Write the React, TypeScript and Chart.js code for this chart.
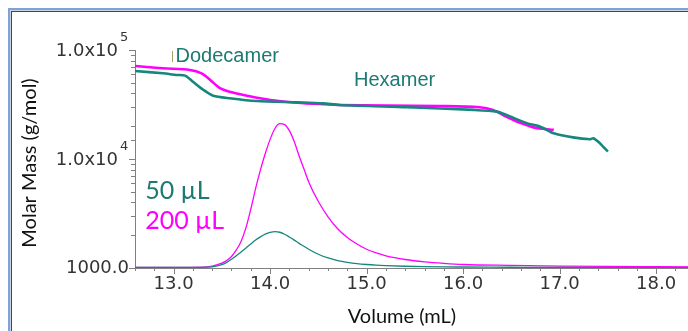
import React, { useEffect, useRef } from 'react';
import { Chart, registerables } from 'chart.js';

Chart.register(...registerables);

// ---- data ----
const peakVol = [12.6, 13.0, 13.3, 13.4, 13.5, 13.55, 13.6, 13.65, 13.7, 13.75, 13.8, 13.85, 13.9, 13.95, 14.0, 14.05, 14.1, 14.15, 14.2, 14.25, 14.3, 14.35, 14.4, 14.5, 14.6, 14.7, 14.8, 14.9, 15.0, 15.1, 15.2, 15.4, 15.6, 15.8, 16.0, 16.5, 17.0, 17.5, 18.0, 18.6];
const pinkSignal = [0.3, 0.3, 0.4, 0.9, 2.2, 3.4, 5.3, 8.3, 12.3, 18.5, 27, 36.5, 45, 52.5, 59, 64, 66.2, 65.8, 63, 58, 51.5, 45.5, 39.5, 30.5, 23.5, 18, 14, 11, 8.6, 6.9, 5.6, 3.9, 2.8, 2.1, 1.6, 1.2, 0.9, 0.7, 0.6, 0.5];
const tealSignal = [0.3, 0.3, 0.3, 0.5, 1.5, 2.6, 4.0, 5.6, 7.3, 9.2, 11, 12.8, 14.3, 15.5, 16.3, 16.7, 16.4, 15.5, 14.2, 12.8, 11.3, 10, 8.6, 6.3, 4.6, 3.4, 2.6, 2.0, 1.6, 1.3, 1.1, 0.8, 0.6, 0.5, 0.45, 0.35, 0.25, 0.2, 0.2, 0.2];

const pinkMassVol = [12.6, 12.89, 13.17, 13.29, 13.38, 13.48, 13.58, 13.76, 14.0, 14.28, 14.55, 14.72, 15.2, 15.76, 16.17, 16.31, 16.45, 16.59, 16.73, 16.94];
const pinkMass = [71300, 67900, 65600, 61100, 53100, 44600, 41400, 38100, 34800, 32900, 31800, 31300, 31000, 30600, 29800, 28200, 24400, 21500, 19500, 18500];

const tealMassVol = [12.6, 12.89, 13.03, 13.12, 13.2, 13.31, 13.41, 13.58, 13.86, 14.28, 14.55, 14.72, 15.42, 16.11, 16.35, 16.45, 16.66, 16.8, 16.94, 17.14, 17.32, 17.35, 17.42, 17.45, 17.5];
const tealMass = [64200, 61100, 59000, 58200, 51200, 43000, 38100, 36100, 34000, 33100, 32400, 31300, 29800, 28200, 27200, 25300, 21300, 19800, 17200, 15800, 15200, 15500, 13900, 13000, 11700];

const yLabelValues = [1000, 10000, 100000];
const yLabelMain = ['1000.0', '1.0x10', '1.0x10'];
const yLabelExp = ['', '4', '5'];

const annText = ['Dodecamer', 'Hexamer', '50 µL', '200 µL'];
const annVol = [13.02, 14.87, 12.705, 12.705];
const annMass = [86300, 52000, 5080, 2700];

// ---- styles ----
const TEAL = '#16877d';
const TEAL_TEXT = '#1b7a72';
const PINK = '#ff00ff';
const annColor = [TEAL_TEXT, TEAL_TEXT, TEAL_TEXT, PINK];
const annFont = ['20px "Liberation Sans", Arial, sans-serif', '20px "Liberation Sans", Arial, sans-serif', '25px Lato, sans-serif', '25px Lato, sans-serif'];
const TICK_FONT = '"DejaVu Sans", sans-serif';
const TICK_COLOR = '#333';

const pts = (xs: number[], ys: number[]) => xs.map((x, i) => ({ x, y: ys[i] }));

const decor = {
  id: 'decor',
  beforeDraw(chart: any) {
    const ctx = chart.ctx;
    const w = chart.width, h = chart.height;
    ctx.save();
    ctx.fillStyle = '#ffffff';
    ctx.fillRect(0, 0, w, h);
    ctx.fillStyle = '#7fa2d8';
    ctx.fillRect(8, 8, w, 2);
    ctx.fillRect(8, 8, 2, h);
    ctx.fillStyle = '#ccd5e4';
    ctx.fillRect(10, 10, w, 1);
    ctx.fillRect(10, 10, 1, h);
    ctx.fillStyle = '#3e4650';
    ctx.fillRect(11, 11, w, 1);
    ctx.fillRect(11, 11, 1, h);
    ctx.restore();
  },
  afterDraw(chart: any) {
    const ctx = chart.ctx;
    const area = chart.chartArea;
    const xs = chart.scales.x;
    const ys = chart.scales.y;
    ctx.save();
    // tick marks
    ctx.strokeStyle = '#808080';
    ctx.lineWidth = 1;
    ctx.beginPath();
    xs.ticks.forEach((t: any) => {
      const major = Math.abs(t.value - Math.round(t.value)) < 1e-6;
      const px = Math.round(xs.getPixelForValue(t.value)) + 0.5;
      ctx.moveTo(px, area.bottom);
      ctx.lineTo(px, area.bottom + (major ? 6 : 3));
    });
    ys.ticks.forEach((t: any) => {
      const lg = Math.log10(t.value);
      const major = Math.abs(lg - Math.round(lg)) < 1e-6;
      const py = Math.round(ys.getPixelForValue(t.value)) + 0.5;
      ctx.moveTo(area.left, py);
      ctx.lineTo(area.left - (major ? 6 : 4), py);
    });
    ctx.stroke();

    // y labels
    ctx.fillStyle = TICK_COLOR;
    ctx.textBaseline = 'middle';
    yLabelValues.forEach((v, i) => {
      const py = ys.getPixelForValue(v);
      if (yLabelExp[i]) {
        ctx.font = '18px ' + TICK_FONT;
        ctx.textAlign = 'right';
        ctx.fillText(yLabelMain[i], area.left - 17, py + 1);
        ctx.font = '13px ' + TICK_FONT;
        ctx.textAlign = 'left';
        ctx.fillText(yLabelExp[i], area.left - 15, py - 12);
      } else {
        ctx.font = '18px ' + TICK_FONT;
        ctx.textAlign = 'right';
        ctx.fillText(yLabelMain[i], area.left - 6, py);
      }
    });

    // axis titles
    ctx.fillStyle = '#111';
    ctx.font = '20px Lato, sans-serif';
    ctx.textAlign = 'center';
    ctx.textBaseline = 'middle';
    ctx.fillText('Volume (mL)', area.left + 267, area.bottom + 49);
    ctx.save();
    ctx.translate(30, (area.top + area.bottom) / 2 + 4);
    ctx.rotate(-Math.PI / 2);
    ctx.fillText('Molar Mass (g/mol)', 0, 0);
    ctx.restore();

    // annotations
    annText.forEach((s, i) => {
      const px = xs.getPixelForValue(annVol[i]);
      const py = ys.getPixelForValue(annMass[i]);
      ctx.font = annFont[i];
      ctx.fillStyle = annColor[i];
      ctx.textAlign = 'left';
      ctx.textBaseline = 'middle';
      ctx.fillText(s, px, py);
      if (i === 0) {
        ctx.fillStyle = '#a8a060';
        ctx.fillRect(Math.round(px) - 4, Math.round(py) - 6, 1, 11);
      }
    });
    ctx.restore();
  },
};

export default function App() {
  const ref = useRef<HTMLCanvasElement | null>(null);
  useEffect(() => {
    if (!ref.current) return;
    const chart = new Chart(ref.current, {
      type: 'line',
      data: {
        datasets: [
          {
            data: pts(peakVol, tealSignal),
            borderColor: TEAL,
            borderWidth: 1.3,
            pointRadius: 0,
            cubicInterpolationMode: 'monotone',
            yAxisID: 'y2',
            fill: false,
          },
          {
            data: pts(peakVol, pinkSignal),
            borderColor: PINK,
            borderWidth: 1.3,
            pointRadius: 0,
            cubicInterpolationMode: 'monotone',
            yAxisID: 'y2',
            fill: false,
          },
          {
            data: pts(tealMassVol, tealMass),
            borderColor: TEAL,
            borderWidth: 2.6,
            pointRadius: 0,
            tension: 0.25,
            yAxisID: 'y',
            fill: false,
          },
          {
            data: pts(pinkMassVol, pinkMass),
            borderColor: PINK,
            borderWidth: 2.6,
            pointRadius: 0,
            tension: 0.3,
            yAxisID: 'y',
            fill: false,
          },
        ],
      } as any,
      options: {
        animation: false,
        responsive: false,
        devicePixelRatio: 1,
        layout: { padding: { top: 50, right: 6, left: 0, bottom: 0 } },
        plugins: { legend: { display: false }, tooltip: { enabled: false } },
        scales: {
          x: {
            type: 'linear',
            min: 12.6,
            max: 18.6,
            grid: { display: true, drawOnChartArea: false, drawTicks: false },
            border: { display: true, color: '#808080', width: 1 },
            ticks: {
              stepSize: 0.2,
              autoSkip: false,
              maxRotation: 0,
              padding: 6,
              color: TICK_COLOR,
              font: { family: TICK_FONT, size: 18 },
              callback: (v: any) => {
                const n = Number(v);
                return Math.abs(n - Math.round(n)) < 1e-6 ? n.toFixed(1) : '';
              },
            },
            afterFit: (s: any) => { s.height = 63; },
          },
          y: {
            type: 'logarithmic',
            min: 1000,
            max: 100000,
            position: 'left',
            grid: { display: true, drawOnChartArea: false, drawTicks: false },
            border: { display: true, color: '#808080', width: 1 },
            ticks: { display: false },
            afterFit: (s: any) => { s.width = 135; },
          },
          y2: {
            type: 'linear',
            min: 0,
            max: 100,
            display: false,
          },
        },
      } as any,
      plugins: [decor],
    });
    return () => chart.destroy();
  }, []);

  return (
    <div style={{ position: 'fixed', left: 0, top: 0, width: 688, height: 331, overflow: 'hidden', background: '#fff' }}>
      <canvas ref={ref} width={720} height={331} style={{ display: 'block', width: 720, height: 331 }} />
    </div>
  );
}
